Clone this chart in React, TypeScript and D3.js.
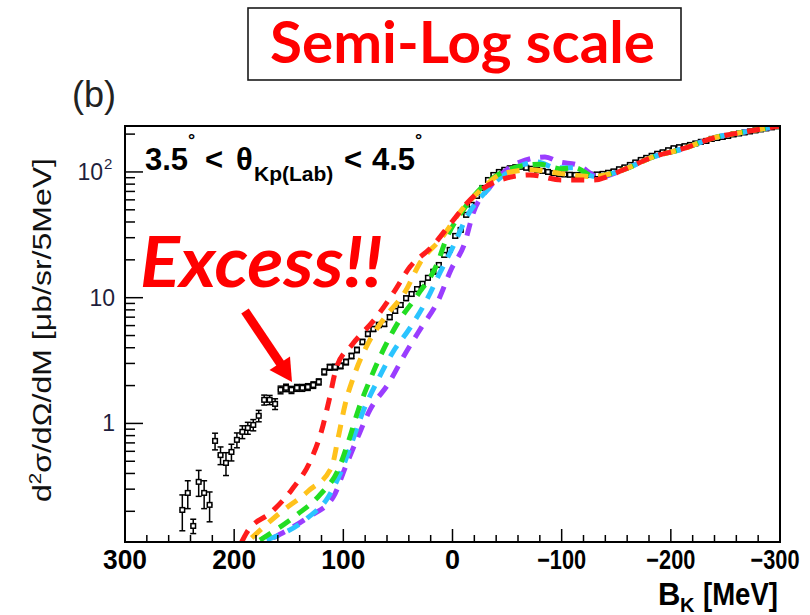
import React from "react";
import * as d3 from "d3";

// ---------------- data ----------------
// measured points: [B_K (MeV), d2sigma/dOmega/dM, error]
const measured: [number, number, number][] = [
  [247.5, 0.205, 0.065], [242.5, 0.28, 0.07], [237.5, 0.153, 0.02], [232.5, 0.343, 0.08],
  [227.5, 0.28, 0.07], [222.5, 0.225, 0.06], [217.5, 0.726, 0.11], [212.5, 0.56, 0.09],
  [207.5, 0.485, 0.1], [202.5, 0.593, 0.09], [197.5, 0.74, 0.1], [192.5, 0.857, 0.1],
  [187.5, 0.92, 0.1], [182.5, 0.973, 0.1], [177.5, 1.15, 0.12], [172.5, 1.54, 0.14],
  [167.5, 1.54, 0.13], [162.5, 1.43, 0.14], [157.5, 1.85, 0.13], [152.5, 1.92, 0.13],
  [147.5, 1.85, 0.12], [142.5, 1.92, 0.12], [137.5, 1.92, 0.12], [132.5, 1.95, 0.12],
  [127.5, 2.02, 0.12], [122.5, 2.14, 0.12], [117.5, 2.57, 0.14], [112.5, 2.8, 0.15],
  [107.5, 2.81, 0.15], [102.5, 2.87, 0.15], [97.5, 3.08, 0.16], [92.5, 3.44, 0.17],
  [87.5, 3.84, 0.19], [82.5, 4.45, 0.21], [77.5, 5.15, 0.24], [72.5, 5.64, 0.26],
  [67.5, 6.07, 0.28], [62.5, 6.18, 0.28], [57.5, 7.0, 0.3], [52.5, 7.85, 0.33],
  [47.5, 8.75, 0.36], [42.5, 9.9, 0.4], [37.5, 10.7, 0.43], [32.5, 11.7, 0.46],
  [27.5, 12.9, 0.5], [22.5, 14.4, 0.55], [17.5, 16.1, 0.6], [12.5, 18.2, 0.68],
  [7.5, 21.9, 0.8], [2.5, 24.0, 0.9], [-2.5, 31, 1.1], [-7.5, 34.6, 1.2],
  [-12.5, 45.6, 1.5], [-17.5, 54.8, 1.8], [-22.5, 64.5, 2.1], [-27.5, 74.6, 2.4],
  [-32.5, 86.3, 2.8], [-37.5, 94.6, 3.0], [-42.5, 100, 3.2], [-47.5, 104, 3.3],
  [-52.5, 107, 3.4], [-57.5, 109, 3.5], [-62.5, 110, 3.5], [-67.5, 108, 3.4],
  [-72.5, 106, 3.4], [-77.5, 104, 3.3], [-82.5, 102, 3.3], [-87.5, 100, 3.2],
  [-92.5, 98, 3.1], [-97.5, 96.5, 3.1], [-102.5, 95.5, 3.0], [-107.5, 95, 3.0],
  [-112.5, 94.6, 3.0], [-117.5, 94.5, 3.0], [-122.5, 94.5, 3.0], [-127.5, 95, 3.0],
  [-132.5, 95.5, 3.0], [-137.5, 96.5, 3.1], [-142.5, 98.5, 3.1], [-147.5, 101, 3.2],
  [-152.5, 105, 3.3], [-157.5, 108.7, 3.4], [-162.5, 113.7, 3.6], [-167.5, 119, 3.8],
  [-172.5, 124.6, 3.9], [-177.5, 129.4, 4.0], [-182.5, 134.4, 4.2], [-187.5, 139.5, 4.3],
  [-192.5, 143.3, 4.4], [-197.5, 148.8, 4.6], [-202.5, 154.4, 4.8], [-207.5, 157.3, 4.9],
  [-212.5, 160.3, 5.0], [-217.5, 164, 5.1], [-222.5, 168.6, 5.2], [-227.5, 173.6, 5.4],
  [-232.5, 176.5, 5.5], [-237.5, 183.1, 5.7], [-242.5, 186.3, 5.8], [-247.5, 189.9, 5.9],
  [-252.5, 193.4, 6.0], [-257.5, 198.8, 6.2], [-262.5, 202.4, 6.3], [-267.5, 206.2, 6.4],
  [-272.5, 210, 6.5], [-277.5, 214, 6.6], [-282.5, 218, 6.8], [-287.5, 222, 6.9],
  [-292.5, 226.3, 7.0], [-297.5, 230.5, 7.1],
];

// theoretical curves: [B_K, value]
const curveTail: [number, number][] = [
  [-183.7, 131.6], [-211.2, 153], [-238.6, 186], [-266.1, 207], [-300, 232],
];
const curveRed: [number, number][] = [
  [193.1, 0.114], [188.6, 0.135], [165.6, 0.198], [147.4, 0.296], [129.0, 0.53],
  [120.0, 0.87], [113.2, 1.51], [106.1, 2.82], [92.2, 4.21], [71.0, 6.78], [54.2, 10.9],
  [38.9, 17.6], [19.1, 25.3], [0.6, 40.0], [-16.0, 59.9], [-40.8, 84.7], [-71.0, 94.6],
  [-100.3, 86.3], [-128.7, 86.3], [-156.2, 103.7],
];
const curveOrange: [number, number][] = [
  [184.0, 0.123], [158.1, 0.194], [132.1, 0.29], [110.7, 0.45], [104.6, 0.78],
  [98.5, 1.4], [89.3, 2.52], [77.1, 4.37], [61.8, 7.0], [43.5, 11.1], [29.8, 18.9],
  [9.9, 29.9], [-6.9, 48], [-27.9, 74.6], [-43.5, 95], [-71.0, 104], [-100, 97],
  [-128.7, 92], [-156.2, 104],
];
const curveGreen: [number, number][] = [
  [176.4, 0.118], [142.8, 0.187], [121.5, 0.27], [104.6, 0.43], [95.5, 0.71],
  [86.3, 1.28], [75.6, 2.22], [63.4, 3.84], [49.6, 6.4], [32.0, 10.5], [14.5, 18.2],
  [5.3, 29.9], [-9.9, 50], [-30, 80], [-60, 110], [-80, 115], [-100, 106],
  [-112, 108], [-130, 92], [-156.2, 104],
];
const curveCyan: [number, number][] = [
  [170.2, 0.118], [133.6, 0.175], [113.8, 0.26], [101.5, 0.427], [92.3, 0.7],
  [81.7, 1.26], [68.3, 2.22], [54.5, 3.7], [38.9, 5.75], [23.6, 9.6], [11.5, 15.8],
  [-1, 26], [-13, 43.9], [-32, 72], [-60, 110], [-77.1, 120], [-95, 108],
  [-110.7, 108], [-130, 92], [-156.2, 104],
];
const curvePurple: [number, number][] = [
  [164.2, 0.123], [132.1, 0.18], [109.2, 0.26], [98.5, 0.44], [87.8, 0.74],
  [75.6, 1.28], [58.3, 2.1], [44, 3.5], [28.8, 5.75], [13.3, 9.4], [1.5, 16.6],
  [-11.5, 27.7], [-18.7, 46.4], [-34.3, 76], [-61.8, 120], [-84.7, 131.6],
  [-98, 120], [-114, 114], [-135, 91], [-156.2, 104],
];

const curves = [
  { name: "purple", color: "#9a3cff", pts: curvePurple },
  { name: "cyan", color: "#2cc4ff", pts: curveCyan },
  { name: "green", color: "#22dd22", pts: curveGreen },
  { name: "orange", color: "#ffc21a", pts: curveOrange },
  { name: "red", color: "#ff1a1a", pts: curveRed },
];

const xMajorTicks = [300, 200, 100, 0, -100, -200, -300];
const xTickLabels = ["300", "200", "100", "0", "\u2212100", "\u2212200", "\u2212300"];
const xMinorTicks = [280, 260, 240, 220, 180, 160, 140, 120, 80, 60, 40, 20,
  -20, -40, -60, -80, -120, -140, -160, -180, -220, -240, -260, -280];
const yMajorTicks = [1, 10, 100];
const yMinorTicks = [0.2, 0.3, 0.4, 0.5, 0.6, 0.7, 0.8, 0.9, 2, 3, 4, 5, 6, 7, 8, 9,
  20, 30, 40, 50, 60, 70, 80, 90, 200];
const binHalfWidth = 2.5;

// ---------------- layout ----------------
const W = 810, H = 615;
const PL = 125, PR = 780, PT = 126, PB = 542;
const x = d3.scaleLinear().domain([300, -300]).range([PL, PR]);
const y = d3.scaleLog().domain([0.114, 232]).range([PB, PT]);

const line = d3
  .line<[number, number]>()
  .x((d) => x(d[0]))
  .y((d) => y(d[1]))
  .curve(d3.curveMonotoneX);

const SANS = "'Liberation Sans', Arial, Helvetica, sans-serif";
const CAL = "Lato, 'Open Sans', sans-serif";

export default function App() {
  return (
    <svg
      width={W}
      height={H}
      viewBox={`0 0 ${W} ${H}`}
      style={{ position: "absolute", left: 0, top: 0, background: "#fff" }}
    >
      <defs>
        <clipPath id="plotClip">
          <rect x={PL} y={PT} width={PR - PL} height={PB - PT} />
        </clipPath>
        <filter id="soft" x="-5%" y="-5%" width="110%" height="110%">
          <feGaussianBlur stdDeviation="0.6" />
        </filter>
      </defs>
      <rect x={0} y={0} width={W} height={H} fill="#fff" />

      {/* title box */}
      <rect x={248} y={8} width={433} height={72} fill="none" stroke="#1a1a1a" strokeWidth={1.6} />
      <text
        x={270}
        y={63}
        fontFamily={CAL}
        fontWeight={700}
        fontSize={57}
        fill="#ff0000"
        textLength={385}
        lengthAdjust="spacingAndGlyphs"
      >
        Semi-Log scale
      </text>

      {/* (b) */}
      <text x={72} y={107} fontFamily={SANS} fontSize={36} fill="#222">(b)</text>

      {/* measured data */}
      <g clipPath="url(#plotClip)" stroke="#000" strokeWidth={1.5}>
        {measured.map(([b, v, e], i) => {
          const cx = x(b);
          const cy = y(v);
          const y1 = y(Math.max(v - e, 0.05));
          const y2 = y(v + e);
          return (
            <g key={i}>
              <line x1={x(b + binHalfWidth)} x2={x(b - binHalfWidth)} y1={cy} y2={cy} />
              <line x1={cx} x2={cx} y1={y1} y2={y2} />
              <line x1={cx - 3} x2={cx + 3} y1={y1} y2={y1} />
              <line x1={cx - 3} x2={cx + 3} y1={y2} y2={y2} />
              <rect x={cx - 2.3} y={cy - 2.3} width={4.6} height={4.6} fill="#fff" strokeWidth={1.5} />
            </g>
          );
        })}
      </g>

      {/* curves */}
      <g clipPath="url(#plotClip)" filter="url(#soft)">
        {curves.map((c) => (
          <path
            key={c.name}
            d={line(c.pts.concat(curveTail)) || ""}
            fill="none"
            stroke={c.color}
            strokeWidth={5}
            strokeDasharray="13 10"
          />
        ))}
      </g>

      {/* axes ticks */}
      <g stroke="#000" strokeWidth={1.5}>
        {xMajorTicks.map((t) => (
          <line key={"xM" + t} x1={x(t)} x2={x(t)} y1={PB} y2={PB - 13} />
        ))}
        {xMinorTicks.map((t) => (
          <line key={"xm" + t} x1={x(t)} x2={x(t)} y1={PB} y2={PB - 7} />
        ))}
        {yMajorTicks.map((t) => (
          <line key={"yM" + t} x1={PL} x2={PL + 18} y1={y(t)} y2={y(t)} />
        ))}
        {yMinorTicks.map((t) => (
          <line key={"ym" + t} x1={PL} x2={PL + 10} y1={y(t)} y2={y(t)} />
        ))}
      </g>

      {/* frame */}
      <rect x={PL} y={PT} width={PR - PL} height={PB - PT} fill="none" stroke="#000" strokeWidth={2} />

      {/* x tick labels */}
      {xMajorTicks.map((t, i) => (
        <text
          key={"xl" + t}
          x={i === xMajorTicks.length - 1 ? x(t) - 5 : x(t)}
          y={569}
          textAnchor="middle"
          fontFamily={SANS}
          fontWeight={700}
          fontSize={27}
          fill="#000"
          textLength={xTickLabels[i].length === 1 ? 15 : xTickLabels[i].length === 3 ? 44 : 49}
          lengthAdjust="spacingAndGlyphs"
        >
          {xTickLabels[i]}
        </text>
      ))}

      {/* x title */}
      <g fontFamily={SANS} fontWeight={700} fill="#000">
        <text x={658} y={605} fontSize={31}>B</text>
        <text x={680} y={612} fontSize={20}>K</text>
        <text x={703} y={605} fontSize={31} textLength={75} lengthAdjust="spacingAndGlyphs">[MeV]</text>
      </g>

      {/* y tick labels */}
      <text x={103} y={y(100) + 8} textAnchor="end" fontFamily={SANS} fontSize={23} fill="#1e1e3c">
        10
      </text>
      <text x={104} y={y(100) - 3} fontFamily={SANS} fontSize={15} fill="#1e1e3c">2</text>
      <text x={115} y={y(10) + 8} textAnchor="end" fontFamily={SANS} fontSize={23} fill="#1e1e3c">
        10
      </text>
      <text x={115} y={y(1) + 8} textAnchor="end" fontFamily={SANS} fontSize={23} fill="#1e1e3c">
        1
      </text>

      {/* y title */}
      <text
        transform="translate(51,330) rotate(-90)"
        textAnchor="middle"
        fontFamily={SANS}
        fontSize={25}
        fill="#111"
        textLength={344}
        lengthAdjust="spacingAndGlyphs"
      >
        d<tspan fontSize={16} dy={-10}>2</tspan>
        <tspan dy={10}>σ/dΩ/dM [μb/sr/5MeV]</tspan>
      </text>

      {/* angle annotation */}
      <g fontFamily={SANS} fontWeight={700} fill="#000">
        <text x={145} y={170} fontSize={31}>3.5</text>
        <text x={188} y={146} fontSize={18}>°</text>
        <text x={205} y={170} fontSize={31}>&lt;</text>
        <text x={236} y={170} fontSize={31}>θ</text>
        <text x={254} y={181} fontSize={21}>Kp(Lab)</text>
        <text x={344} y={170} fontSize={31}>&lt;</text>
        <text x={372} y={170} fontSize={31}>4.5</text>
        <text x={415} y={146} fontSize={18}>°</text>
      </g>

      {/* Excess annotation */}
      <text
        x={140}
        y={287}
        fontFamily={CAL}
        fontWeight={700}
        fontStyle="italic"
        fontSize={71}
        fill="#ff0000"
        textLength={243}
        lengthAdjust="spacingAndGlyphs"
      >
        Excess!!
      </text>
      <line x1={245} y1={311} x2={282} y2={366} stroke="#ff0000" strokeWidth={9} />
      <polygon points="292,382 269.5,370 290,356.5" fill="#ff0000" />
    </svg>
  );
}
